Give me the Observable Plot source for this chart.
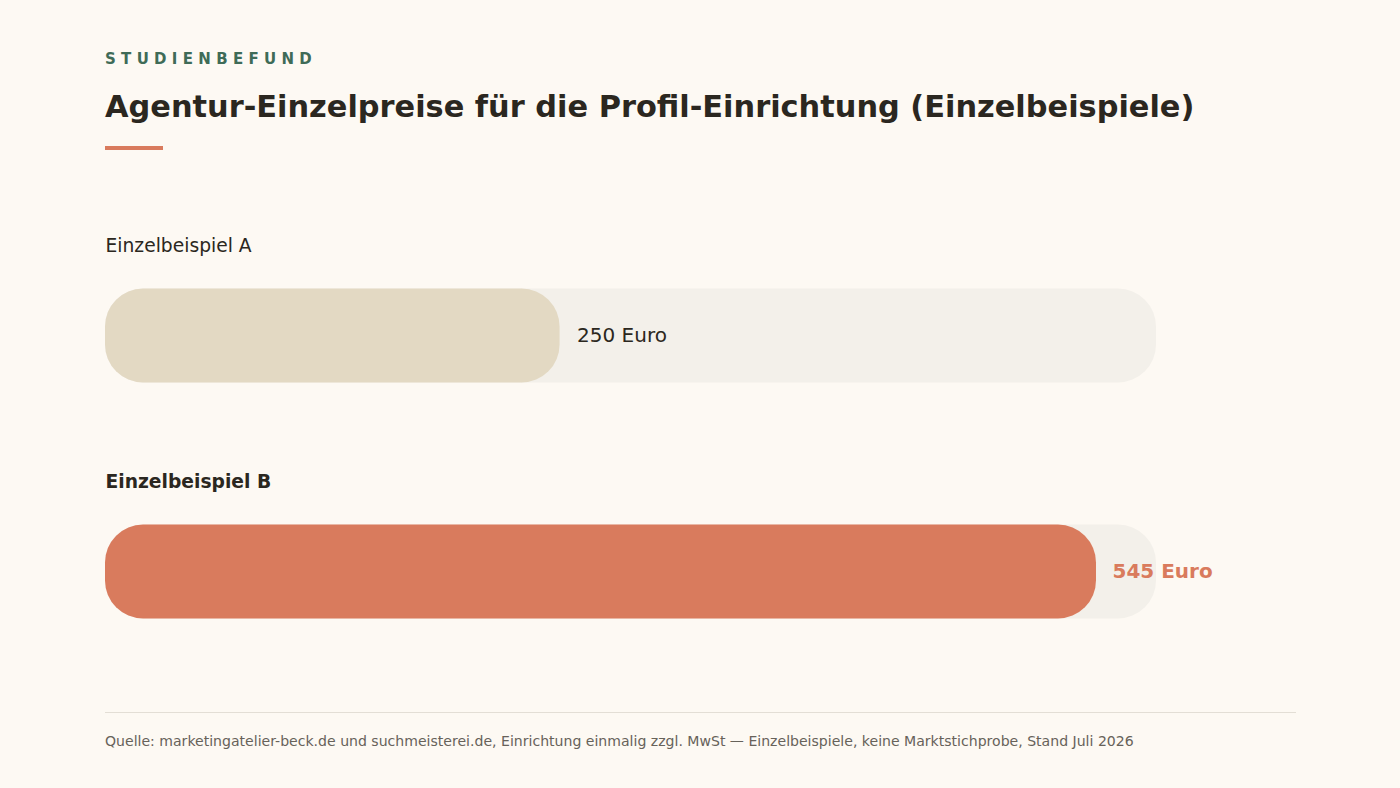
<!DOCTYPE html>
<html><head><meta charset="utf-8">
<script src="https://cdn.jsdelivr.net/npm/d3@7"></script>
<script src="https://cdn.jsdelivr.net/npm/@observablehq/plot@0.6"></script>
<style>
html,body{margin:0;padding:0;background:#fdf9f3;}
body{width:1400px;height:788px;position:relative;overflow:hidden;font-family:"DejaVu Sans",sans-serif;}
.eyebrow{position:absolute;left:105px;top:52px;font-size:15px;line-height:15px;font-weight:bold;letter-spacing:5.3px;color:#3f6b57;}
.title{position:absolute;left:105px;top:91.5px;font-size:30.4px;line-height:30.4px;font-weight:bold;color:#2b2720;white-space:nowrap;}
.accent{position:absolute;left:105px;top:146px;width:58px;height:4px;background:#d97b5d;}
#chart{position:absolute;left:0;top:190px;}
.rule{position:absolute;left:105px;top:712px;width:1191px;height:1px;background:#e3ded5;}
.caption{position:absolute;left:105px;top:734px;font-size:14.07px;line-height:14px;color:#67625a;white-space:nowrap;}
</style></head>
<body>
<div class="eyebrow">STUDIENBEFUND</div>
<div class="title">Agentur-Einzelpreise für die Profil-Einrichtung (Einzelbeispiele)</div>
<div class="accent"></div>
<div id="chart"></div>
<div class="rule"></div>
<div class="caption">Quelle: marketingatelier-beck.de und suchmeisterei.de, Einrichtung einmalig zzgl. MwSt — Einzelbeispiele, keine Marktstichprobe, Stand Juli 2026</div>
<script>
const categories = ["Einzelbeispiel A", "Einzelbeispiel B"];
const values = [250, 545];
const highlighted = ["Einzelbeispiel B"];
const unit = "Euro";
const trackMax = 578;

const data = categories.map((c, i) => ({cat: c, value: values[i], hi: highlighted.includes(c)}));
const normal = data.filter(d => !d.hi);
const hi = data.filter(d => d.hi);

const chart = Plot.plot({
  width: 1400, height: 512,
  marginLeft: 105, marginRight: 244, marginTop: 40, marginBottom: 0,
  x: {domain: [0, trackMax], axis: null},
  y: {domain: categories, axis: null, padding: 0},
  color: {type: "identity"},
  style: {background: "transparent", fontFamily: "DejaVu Sans, sans-serif", overflow: "visible"},
  marks: [
    Plot.barX(data, {x1: 0, x2: trackMax, y: "cat", fill: "#f3f0ea", rx: 38, insetTop: 58.5, insetBottom: 83.5}),
    Plot.barX(data, {x: "value", y: "cat", fill: d => d.hi ? "#d97b5d" : "#e3d9c3", rx: 38, insetTop: 58.5, insetBottom: 83.5}),
    Plot.text(normal, {x: 0, y: "cat", text: "cat", dy: -102, textAnchor: "start", fontSize: 18.7, fill: "#2b2720"}),
    Plot.text(hi, {x: 0, y: "cat", text: "cat", dy: -102, textAnchor: "start", fontSize: 18.7, fontWeight: "bold", fill: "#2b2720"}),
    Plot.text(normal, {x: "value", y: "cat", text: d => `${d.value} ${unit}`, dx: 17, dy: -12.5, textAnchor: "start", fontSize: 20, fill: "#2b2720"}),
    Plot.text(hi, {x: "value", y: "cat", text: d => `${d.value} ${unit}`, dx: 16, dy: -12.5, textAnchor: "start", fontSize: 20, fontWeight: "bold", fill: "#d97b5d"})
  ]
});
document.getElementById("chart").appendChild(chart);
</script>
</body></html>
